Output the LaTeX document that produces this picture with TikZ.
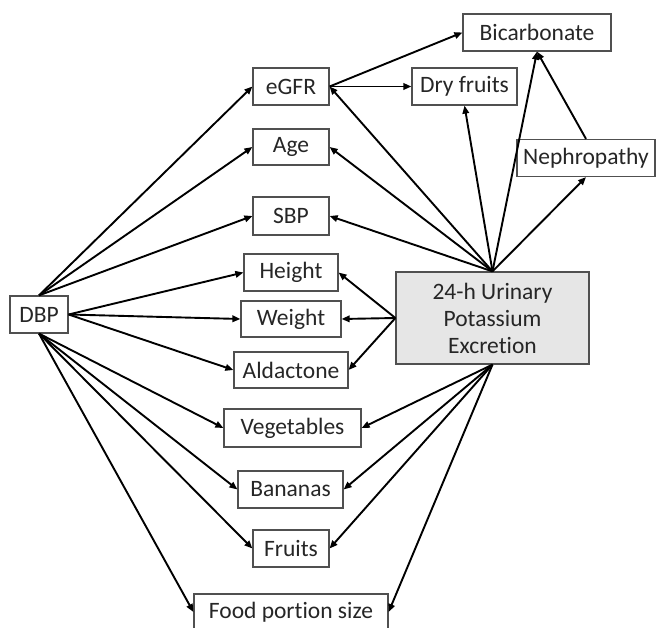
\documentclass[tikz,border=0pt]{standalone}
\usepackage{fontspec}
\setmainfont{Carlito}[Ligatures=NoCommon]
\usetikzlibrary{arrows.meta}
\definecolor{boxline}{RGB}{80,80,80}
\definecolor{urifill}{RGB}{230,230,230}
\begin{document}
\begin{tikzpicture}[x=1pt,y=-1pt,
  box/.style={draw=boxline,line width=1.2pt,fill=white,inner sep=0pt,
    font=\fontsize{23.5}{27}\selectfont,text=black!85,align=center},
  conn/.style={line width=1.9pt,-{Triangle[length=8pt,width=6.5pt]}}]
\useasboundingbox (0,0) rectangle (657,628);
\node[box,minimum width=58pt,minimum height=37pt] (dbp) at (39,314.5) {DBP};
\node[box,minimum width=76pt,minimum height=37pt] (egfr) at (291,86.5) {eGFR};
\node[box,minimum width=76pt,minimum height=36pt] (age) at (291,147) {Age};
\node[box,minimum width=76pt,minimum height=38pt] (sbp) at (291,216) {SBP};
\node[box,minimum width=94pt,minimum height=37pt] (hgt) at (291,272.5) {Height};
\node[box,minimum width=100pt,minimum height=36pt] (wgt) at (291,319) {Weight};
\node[box,minimum width=114pt,minimum height=36pt] (ald) at (291,370) {Aldactone};
\node[box,minimum width=137pt,minimum height=38pt] (veg) at (292.5,428) {Vegetables};
\node[box,minimum width=105pt,minimum height=37pt] (ban) at (290.5,489.5) {Bananas};
\node[box,minimum width=76pt,minimum height=37pt] (fru) at (291,548.5) {Fruits};
\node[box,minimum width=194pt,minimum height=36pt] (food) at (291,612) {Food portion size};
\node[box,minimum width=148pt,minimum height=37pt] (bic) at (537,32.5) {Bicarbonate};
\node[box,minimum width=105pt,minimum height=37pt] (dry) at (464.5,86.5) {Dry fruits};
\node[box,minimum width=138pt,minimum height=37pt] (neph) at (586,158) {Nephropathy};
\node[box,fill=urifill,minimum width=193pt,minimum height=92pt] (uri) at (492.5,318) {24-h Urinary\\Potassium\\Excretion};
% DBP edges
\draw[conn] (dbp.north) -- (egfr.west);
\draw[conn] (dbp.north) -- (age.west);
\draw[conn] (dbp.north) -- (sbp.west);
\draw[conn] (dbp.east) -- (hgt.west);
\draw[conn] (dbp.east) -- (wgt.west);
\draw[conn] (dbp.east) -- (ald.west);
\draw[conn] (dbp.south) -- (veg.west);
\draw[conn] (dbp.south) -- (ban.west);
\draw[conn] (dbp.south) -- (fru.west);
\draw[conn] (dbp.south) -- (food.west);
% urinary edges
\draw[conn] (uri.north) -- (egfr.east);
\draw[conn] (uri.north) -- (age.east);
\draw[conn] (uri.north) -- (sbp.east);
\draw[conn] (uri.north) -- (dry.south);
\draw[conn] (uri.north) -- (bic.south);
\draw[conn] (uri.north) -- (neph.south);
\draw[conn] (uri.west) -- (hgt.east);
\draw[conn] (uri.west) -- (wgt.east);
\draw[conn] (uri.west) -- (ald.east);
\draw[conn] (uri.south) -- (veg.east);
\draw[conn] (uri.south) -- (ban.east);
\draw[conn] (uri.south) -- (fru.east);
\draw[conn] (uri.south) -- (food.east);
% others
\draw[conn] (neph.north) -- (bic.south);
\draw[conn] (egfr.east) -- (bic.west);
\draw[conn] (egfr.east) -- (dry.west);
\end{tikzpicture}
\end{document}
